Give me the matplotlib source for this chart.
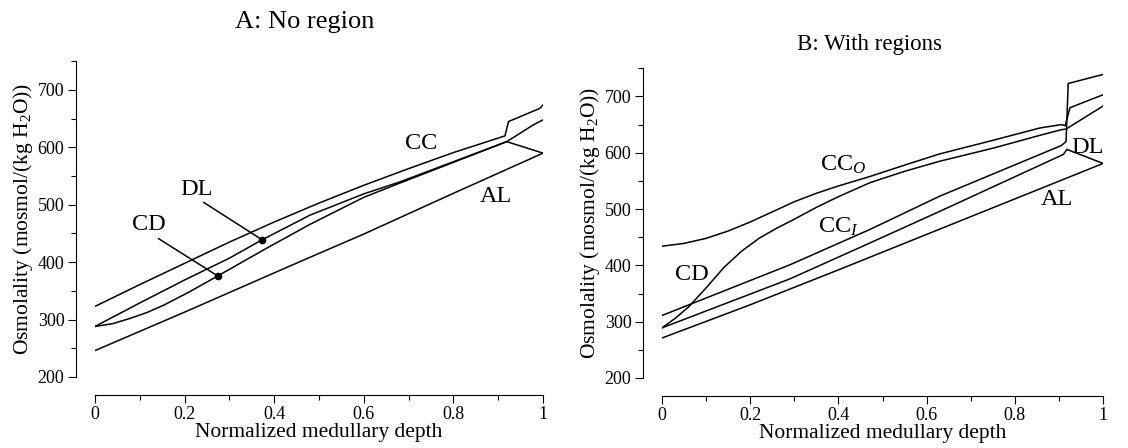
import matplotlib
matplotlib.use("Agg")
import matplotlib.pyplot as plt
from matplotlib.ticker import MultipleLocator

plt.rcParams["font.family"] = ["Liberation Serif", "DejaVu Serif"]
plt.rcParams["mathtext.fontset"] = "custom"
plt.rcParams["mathtext.rm"] = "Liberation Serif"
plt.rcParams["mathtext.it"] = "Liberation Serif:italic"

# ---- Panel A: no region ----
a_cc_x = [0, 0.1, 0.2, 0.3, 0.4, 0.5, 0.6, 0.7, 0.8, 0.915, 0.923, 0.993, 1.0]
a_cc_y = [323, 361, 398, 435, 470, 503, 534, 563, 591, 620, 645, 668, 674]
a_dl_x = [0, 0.1, 0.2, 0.3, 0.373, 0.48, 0.6, 0.681, 0.8, 0.919, 1.0]
a_dl_y = [288, 329, 369, 407, 439, 482, 519, 540, 575, 610, 590]
a_cd_x = [0, 0.04, 0.078, 0.115, 0.153, 0.21, 0.274, 0.38, 0.48, 0.6, 0.681, 0.8, 0.919, 0.978, 1.0]
a_cd_y = [288, 293, 302, 312, 325, 348, 376, 423, 466, 513, 538, 574, 610, 639, 648]
a_al_x = [0, 0.2, 0.4576, 0.6, 0.8, 1.0]
a_al_y = [246, 313, 401, 449, 520, 590]
a_dl_dot = (0.373, 439)
a_cd_dot = (0.274, 376)

# ---- Panel B: with regions ----
b_cco_x = [0, 0.05, 0.1, 0.15, 0.2, 0.25, 0.3, 0.35, 0.4, 0.472, 0.55, 0.63, 0.75, 0.857, 0.906, 0.914, 0.925, 1.0]
b_cco_y = [434, 439, 448, 461, 477, 495, 513, 528, 541, 558, 578, 598, 622, 644, 650, 648, 680, 703]
b_cd_x = [0, 0.03, 0.06, 0.1, 0.14, 0.18, 0.22, 0.26, 0.3, 0.35, 0.4, 0.472, 0.55, 0.63, 0.75, 0.857, 0.906, 0.916, 1.0]
b_cd_y = [289, 306, 326, 360, 396, 425, 448, 466, 482, 503, 522, 547, 567, 585, 608, 631, 641, 642, 683]
b_cci_x = [0, 0.29, 0.472, 0.63, 0.906, 0.916, 0.921, 1.0]
b_cci_y = [311, 401, 464, 523, 613, 620, 723, 739]
b_dl_x = [0, 0.29, 0.472, 0.63, 0.91, 0.918, 1.0]
b_dl_y = [289, 376, 440, 496, 597, 606, 581]
b_al_x = [0, 0.2, 0.4, 0.6, 0.8, 1.0]
b_al_y = [271, 330, 392, 455, 518, 581]

ylabel = "Osmolality (mosmol/(kg H$_2$O))"
xlabel = "Normalized medullary depth"

fig = plt.figure(figsize=(11.28, 4.48), dpi=100)
axA = fig.add_axes([0.0842, 0.1585, 0.3972, 0.7047])
axB = fig.add_axes([0.5869, 0.1563, 0.3910, 0.6913])


def style(ax):
    ax.set_xlim(0, 1)
    ax.set_ylim(200, 750)
    for s in ("top", "right"):
        ax.spines[s].set_visible(False)
    ax.spines["left"].set_position(("outward", 14))
    ax.spines["bottom"].set_position(("outward", 13))
    ax.spines["left"].set_bounds(200, 750)
    ax.set_xticks([0, 0.2, 0.4, 0.6, 0.8, 1])
    ax.set_xticklabels(["0", "0.2", "0.4", "0.6", "0.8", "1"])
    ax.set_yticks([200, 300, 400, 500, 600, 700])
    ax.xaxis.set_minor_locator(MultipleLocator(0.1))
    ax.yaxis.set_minor_locator(MultipleLocator(50))
    ax.tick_params(which="major", direction="out", length=6, width=0.8, labelsize=13, pad=2)
    ax.tick_params(which="minor", direction="out", length=3.5, width=0.8)
    for s in ("left", "bottom"):
        ax.spines[s].set_linewidth(0.8)
    ax.set_xlabel(xlabel, fontsize=15.5, labelpad=0)
    ax.set_ylabel(ylabel, fontsize=15.5, labelpad=2)


lw = 1.1
for xs, ys in [(a_cc_x, a_cc_y), (a_dl_x, a_dl_y), (a_cd_x, a_cd_y), (a_al_x, a_al_y)]:
    axA.plot(xs, ys, color="black", lw=lw)
axA.plot(*a_dl_dot, "o", color="black", ms=4.5)
axA.plot(*a_cd_dot, "o", color="black", ms=4.5)
axA.plot([0.243, a_dl_dot[0]], [504, a_dl_dot[1]], color="black", lw=lw)
axA.plot([0.142, a_cd_dot[0]], [441, a_cd_dot[1]], color="black", lw=lw)
lab = dict(fontsize=17.5, ha="center", va="center")
axA.text(0.227, 526, "DL", **lab)
axA.text(0.120, 465, "CD", **lab)
axA.text(0.729, 607, "CC", **lab)
axA.text(0.895, 514, "AL", **lab)
style(axA)

for xs, ys in [(b_cco_x, b_cco_y), (b_cd_x, b_cd_y), (b_cci_x, b_cci_y), (b_dl_x, b_dl_y), (b_al_x, b_al_y)]:
    axB.plot(xs, ys, color="black", lw=lw)
axB.text(0.067, 384, "CD", **lab)
axB.text(0.411, 579, "CC$_{\\mathit{O}}$", **lab)
axB.text(0.400, 469, "CC$_{\\mathit{I}}$", **lab)
axB.text(0.964, 609, "DL", **lab)
axB.text(0.895, 517, "AL", **lab)
style(axB)

fig.text(0.270, 0.951, "A: No region", fontsize=19, ha="center", va="center")
fig.text(0.771, 0.900, "B: With regions", fontsize=16.5, ha="center", va="center")

fig.savefig("out.png", dpi=100)
